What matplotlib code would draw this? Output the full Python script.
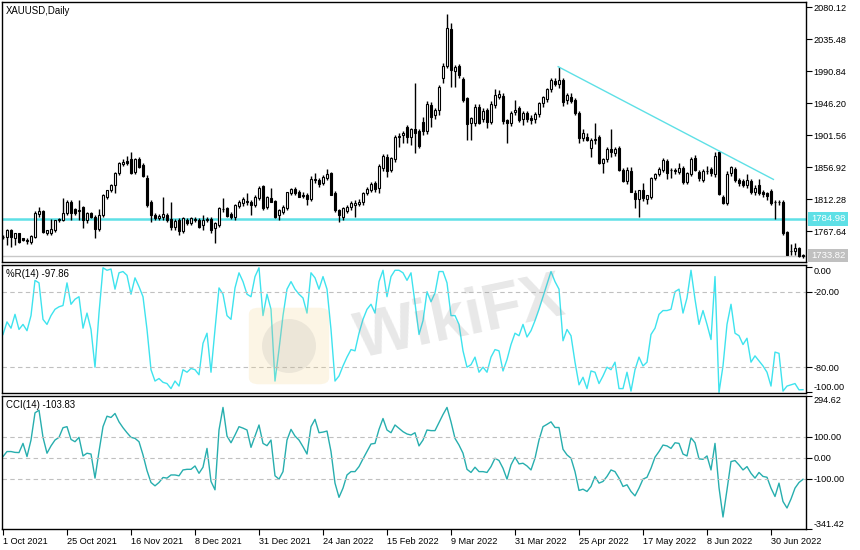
import matplotlib
matplotlib.use("Agg")
import matplotlib.pyplot as plt
import matplotlib.transforms as mtransforms
from matplotlib.patches import FancyBboxPatch, Ellipse
import numpy as np

# XAUUSD daily bars, 1 Oct 2021 .. mid Jul 2022
open_ = [
    1760.0, 1760.2, 1769.5, 1757.8, 1764.8, 1757.8, 1754.0, 1753.2, 1760.2, 1791.8,
    1796.4, 1765.0, 1765.0, 1769.5, 1783.4, 1783.4, 1792.7, 1809.0, 1798.7, 1796.0,
    1801.0, 1783.4, 1792.7, 1788.1, 1770.4, 1790.4, 1816.0, 1825.2, 1832.2, 1848.5,
    1861.5, 1866.0, 1868.0, 1849.9, 1868.0, 1860.0, 1841.5, 1809.0, 1790.4, 1786.0,
    1787.0, 1790.4, 1785.0, 1774.1, 1783.4, 1768.5, 1783.4, 1779.7, 1784.0, 1783.4,
    1776.4, 1784.0, 1784.8, 1771.8, 1776.4, 1798.3, 1799.7, 1791.3, 1787.1, 1803.0,
    1806.6, 1809.0, 1808.0, 1804.3, 1813.6, 1830.8, 1802.0, 1813.6, 1810.0, 1790.4,
    1795.0, 1799.7, 1820.6, 1826.2, 1822.0, 1818.0, 1818.0, 1812.2, 1839.0, 1839.2,
    1834.6, 1841.5, 1848.5, 1821.5, 1797.3, 1787.1, 1796.0, 1801.0, 1804.3, 1805.7,
    1808.0, 1820.6, 1825.2, 1834.6, 1827.6, 1855.5, 1871.7, 1853.2, 1868.0, 1899.0,
    1902.0, 1913.6, 1898.7, 1909.9, 1907.6, 1920.6, 1907.6, 1943.8, 1929.9, 1936.8,
    1981.0, 1998.2, 2049.4, 1991.7, 1998.2, 1980.0, 1953.1, 1919.2, 1918.3, 1941.5,
    1923.8, 1936.9, 1920.6, 1943.8, 1955.5, 1956.4, 1922.9, 1919.2, 1933.6, 1939.2,
    1923.8, 1932.2, 1925.2, 1923.8, 1930.8, 1947.1, 1951.7, 1965.7, 1977.3, 1972.7,
    1978.7, 1950.8, 1955.5, 1950.8, 1932.2, 1898.3, 1899.6, 1884.3, 1895.0, 1899.6,
    1863.4, 1868.0, 1882.0, 1877.3, 1884.3, 1853.2, 1838.3, 1852.0, 1821.5, 1812.7,
    1825.2, 1812.7, 1816.0, 1841.5, 1847.6, 1853.2, 1865.7, 1853.0, 1853.2, 1850.8,
    1856.4, 1836.9, 1847.1, 1869.4, 1850.8, 1839.2, 1851.7, 1854.1, 1847.1, 1878.7,
    1816.0, 1806.6, 1848.5, 1854.1, 1839.2, 1837.8, 1832.2, 1837.8, 1822.0, 1832.2,
    1823.0, 1820.6, 1824.3, 1808.0, 1809.0, 1809.0, 1766.2, 1740.0, 1740.6, 1743.9,
    1734.0,
]
high = [
    1762.5, 1770.5, 1770.4, 1765.5, 1766.0, 1759.0, 1758.0, 1762.0, 1796.0, 1801.1,
    1798.0, 1770.0, 1785.0, 1784.0, 1786.0, 1813.6, 1811.0, 1811.3, 1800.0, 1811.3,
    1803.0, 1794.0, 1794.0, 1790.0, 1798.3, 1820.0, 1826.0, 1833.0, 1850.0, 1864.0,
    1868.0, 1872.7, 1878.7, 1870.0, 1871.7, 1863.0, 1846.0, 1812.0, 1793.0, 1792.0,
    1816.0, 1793.0, 1809.0, 1785.0, 1786.0, 1788.0, 1786.0, 1787.0, 1788.0, 1786.0,
    1790.4, 1788.1, 1787.0, 1780.0, 1802.0, 1813.6, 1802.0, 1794.0, 1806.0, 1811.0,
    1815.0, 1820.6, 1811.0, 1818.0, 1831.0, 1832.0, 1817.0, 1827.6, 1812.0, 1799.0,
    1805.0, 1823.0, 1828.0, 1830.0, 1825.0, 1822.0, 1821.0, 1845.0, 1848.5, 1842.0,
    1846.0, 1854.1, 1851.0, 1824.0, 1799.0, 1802.0, 1805.0, 1810.0, 1811.0, 1813.0,
    1823.0, 1829.0, 1836.0, 1838.0, 1862.0, 1875.0, 1876.0, 1872.0, 1902.0, 1904.3,
    1908.0, 1916.0, 1912.0, 1974.0, 1910.0, 1927.0, 1950.0, 1948.5, 1940.0, 1972.0,
    2002.0, 2070.3, 2058.7, 2000.0, 2001.0, 1983.0, 1955.0, 1927.0, 1945.0, 1945.0,
    1940.0, 1940.0, 1950.0, 1965.7, 1964.8, 1960.0, 1925.0, 1936.0, 1950.8, 1942.0,
    1936.0, 1936.0, 1930.0, 1934.0, 1948.0, 1957.0, 1968.0, 1982.0, 1982.0, 1997.3,
    1982.0, 1960.0, 1960.0, 1953.0, 1935.0, 1910.0, 1905.0, 1898.0, 1919.2, 1902.0,
    1870.0, 1885.0, 1910.0, 1885.0, 1887.0, 1856.0, 1858.0, 1857.0, 1825.0, 1826.0,
    1835.5, 1818.0, 1844.0, 1849.0, 1857.0, 1869.4, 1869.0, 1856.0, 1856.0, 1863.4,
    1859.0, 1851.0, 1871.7, 1874.1, 1853.0, 1854.0, 1858.7, 1857.0, 1878.0, 1880.0,
    1818.0, 1852.0, 1859.0, 1857.0, 1842.0, 1840.0, 1847.6, 1840.0, 1832.0, 1841.0,
    1826.0, 1823.0, 1827.0, 1811.3, 1811.3, 1812.0, 1768.0, 1749.5, 1751.0, 1746.0,
    1736.0,
]
low = [
    1756.4, 1748.5, 1745.3, 1748.5, 1751.0, 1754.0, 1750.0, 1750.0, 1758.0, 1788.0,
    1764.8, 1762.0, 1762.5, 1767.0, 1781.0, 1782.5, 1790.0, 1783.4, 1790.0, 1783.4,
    1771.8, 1779.7, 1786.0, 1757.8, 1768.0, 1788.0, 1813.0, 1823.0, 1821.5, 1846.0,
    1859.0, 1860.0, 1847.0, 1848.0, 1856.0, 1843.0, 1802.0, 1781.0, 1784.0, 1783.0,
    1784.0, 1780.0, 1769.5, 1770.0, 1762.5, 1766.0, 1777.0, 1776.0, 1781.0, 1772.0,
    1769.5, 1781.0, 1765.8, 1751.8, 1774.0, 1795.0, 1787.0, 1785.0, 1784.0, 1800.0,
    1803.0, 1805.0, 1790.0, 1801.0, 1811.0, 1798.0, 1799.0, 1808.0, 1786.0, 1783.4,
    1792.0, 1797.0, 1818.0, 1818.0, 1815.0, 1814.0, 1805.0, 1810.0, 1834.6, 1829.0,
    1832.0, 1839.0, 1818.0, 1795.0, 1780.2, 1784.0, 1793.0, 1798.0, 1788.1, 1803.0,
    1805.0, 1818.0, 1823.0, 1823.0, 1820.6, 1852.0, 1843.8, 1850.0, 1865.0, 1885.7,
    1891.0, 1891.3, 1888.0, 1877.3, 1884.0, 1902.0, 1903.0, 1913.6, 1925.0, 1929.9,
    1975.0, 1995.0, 1969.4, 1969.4, 1982.0, 1948.0, 1895.0, 1895.0, 1915.0, 1918.0,
    1920.0, 1911.3, 1917.0, 1940.0, 1952.0, 1918.0, 1890.4, 1915.0, 1930.0, 1920.0,
    1915.9, 1920.0, 1918.0, 1919.0, 1927.0, 1940.6, 1948.0, 1962.0, 1970.0, 1968.0,
    1942.4, 1945.0, 1946.0, 1930.0, 1891.3, 1893.0, 1893.0, 1871.7, 1890.0, 1862.0,
    1849.4, 1865.0, 1871.7, 1873.0, 1852.0, 1836.0, 1834.0, 1822.0, 1799.7, 1787.1,
    1810.0, 1806.0, 1813.0, 1839.0, 1845.0, 1850.0, 1840.6, 1841.5, 1848.0, 1848.0,
    1833.0, 1833.0, 1845.0, 1852.0, 1838.0, 1836.0, 1847.0, 1845.0, 1844.0, 1818.0,
    1805.7, 1804.0, 1845.0, 1836.0, 1831.0, 1830.0, 1828.0, 1820.0, 1818.0, 1818.0,
    1816.0, 1811.0, 1804.0, 1784.8, 1805.0, 1763.0, 1734.0, 1734.6, 1734.6, 1732.0,
    1731.0,
]
close = [
    1759.2, 1769.5, 1759.2, 1764.8, 1753.2, 1756.0, 1756.0, 1761.1, 1792.7, 1796.4,
    1767.1, 1769.5, 1770.4, 1783.4, 1784.8, 1792.7, 1809.0, 1792.7, 1792.7, 1797.5,
    1783.4, 1792.7, 1787.1, 1770.4, 1790.4, 1818.3, 1825.2, 1832.2, 1848.5, 1862.5,
    1864.8, 1862.5, 1849.4, 1868.0, 1857.8, 1844.8, 1804.3, 1790.4, 1786.0, 1789.0,
    1791.3, 1783.4, 1774.1, 1782.5, 1768.5, 1785.7, 1779.7, 1785.7, 1785.0, 1774.1,
    1783.4, 1785.0, 1769.5, 1778.8, 1799.7, 1799.0, 1789.0, 1787.1, 1804.3, 1809.0,
    1812.7, 1810.0, 1804.3, 1816.0, 1827.6, 1799.7, 1815.0, 1809.0, 1788.1, 1797.3,
    1802.0, 1822.0, 1826.2, 1820.6, 1816.0, 1817.5, 1812.2, 1840.1, 1840.0, 1833.0,
    1843.8, 1847.1, 1818.3, 1797.3, 1790.4, 1799.7, 1802.0, 1807.6, 1807.6, 1809.0,
    1821.5, 1826.7, 1833.6, 1826.2, 1858.7, 1872.7, 1852.2, 1869.4, 1899.6, 1900.0,
    1904.3, 1899.6, 1909.9, 1904.3, 1886.6, 1907.6, 1945.2, 1927.6, 1936.8, 1969.4,
    1998.2, 2050.8, 1992.7, 1997.3, 1985.7, 1950.8, 1916.9, 1925.2, 1941.5, 1919.2,
    1935.5, 1920.6, 1944.8, 1957.8, 1958.7, 1922.0, 1919.2, 1933.1, 1936.8, 1922.9,
    1932.2, 1923.8, 1922.9, 1930.8, 1946.2, 1954.5, 1965.7, 1978.7, 1972.7, 1978.7,
    1948.5, 1957.8, 1949.4, 1932.2, 1898.3, 1905.2, 1895.0, 1895.0, 1896.0, 1863.4,
    1868.0, 1882.0, 1878.7, 1882.0, 1853.2, 1838.3, 1853.2, 1822.0, 1812.2, 1825.2,
    1813.6, 1818.3, 1841.5, 1847.1, 1854.1, 1867.1, 1849.4, 1852.7, 1852.2, 1856.4,
    1836.9, 1848.5, 1868.0, 1853.2, 1841.5, 1851.7, 1852.2, 1848.5, 1872.7, 1819.2,
    1807.6, 1847.1, 1857.8, 1839.2, 1834.6, 1832.2, 1839.2, 1822.0, 1828.5, 1821.5,
    1819.2, 1816.9, 1806.6, 1809.0, 1808.0, 1765.8, 1734.6, 1740.6, 1743.9, 1733.2,
    1733.8,
]

williams_r = [
    -54, -44, -49, -38, -50, -46, -51, -39, -11, -13,
    -42, -46, -39, -34, -32, -31, -13, -30, -26, -24,
    -49, -37, -50, -80, -37, -1, -3, -2, -18, -5,
    -4, -7, -22, -9, -16, -24, -50, -82, -91, -89,
    -92, -93, -97, -91, -95, -82, -84, -81, -82, -86,
    -61, -53, -84, -50, -17, -22, -39, -42, -17, -5,
    -12, -22, -24, -8, -1, -39, -22, -34, -91, -66,
    -39, -18, -12, -18, -22, -25, -37, -5, -9, -18,
    -8, -18, -50, -91, -87, -79, -72, -66, -67, -53,
    -42, -34, -30, -37, -12, -3, -24, -8, -3, -3,
    -5, -11, -5, -29, -54, -43, -20, -28, -21, -4,
    -4, -13, -39, -39, -46, -67, -80, -78, -72, -84,
    -80, -84, -72, -66, -67, -83, -74, -62, -53, -55,
    -46, -56, -51, -43, -34, -24, -14, -4, -12, -18,
    -59, -50, -55, -76, -94, -88, -97, -83, -84, -93,
    -87, -80, -82, -76, -97, -97, -84, -99, -82, -72,
    -79, -76, -54, -49, -38, -35, -35, -34, -20, -18,
    -37, -25, -3, -26, -46, -35, -46, -58, -8, -100,
    -79, -46, -30, -53, -55, -62, -57, -76, -71, -75,
    -79, -84, -95, -68, -69, -99, -95, -94, -93, -98,
    -97.86,
]
cci = [
    5, 29, 29, 25, 24, 68, 5, 84, 214, 227,
    97, 21, 56, 84, 97, 143, 148, 87, 76, 97,
    8, 21, 17, -98, 29, 148, 198, 192, 211, 171,
    143, 119, 97, 92, 76, 13, -62, -119, -135, -119,
    -95, -98, -83, -83, -87, -59, -56, -56, -40, -75,
    -46, 44, -114, -154, 132, 240, 103, 71, 108, 148,
    141, 132, 49, 103, 156, 68, 57, 84, -87, -103,
    -67, 84, 135, 103, 84, 52, 17, 148, 183, 119,
    122, 127, 29, -122, -190, -146, -83, -67, -67, -43,
    -6, 29, 65, 68, 135, 187, 132, 119, 156, 140,
    124, 113, 108, 119, 56, 84, 132, 129, 129, 167,
    206, 240, 171, 92, 60, 21, -56, -71, -46, -67,
    -67, -71, -43, -3, -14, -51, -103, -35, 2, -30,
    -27, -40, -59, -3, 84, 148, 159, 171, 144, 144,
    40, 13, -3, -67, -157, -151, -162, -138, -90, -122,
    -114, -90, -59, -67, -98, -138, -130, -162, -183, -146,
    -103, -94, -51, 2, 29, 60, 56, 44, 71, 68,
    17, 8, 95, 71, -6, -8, 8, -59, 68, -143,
    -284, -154, -19, -14, -35, -59, -43, -75, -98, -71,
    -90, -94, -146, -186, -122, -210, -241, -198, -146, -119,
    -103.83,
]

date_pos = [0, 16, 32, 48, 64, 80, 96, 112, 128, 144, 160, 176, 192]
date_labels = ["1 Oct 2021", "25 Oct 2021", "16 Nov 2021", "8 Dec 2021",
               "31 Dec 2021", "24 Jan 2022", "15 Feb 2022", "9 Mar 2022",
               "31 Mar 2022", "25 Apr 2022", "17 May 2022", "8 Jun 2022",
               "30 Jun 2022"]
price_ticks = [2080.12, 2035.48, 1990.84, 1946.20, 1901.56, 1856.92, 1812.28, 1767.64]
support_level = 1784.98
last_price = 1733.82
trend_x = [138.8, 192.6]
trend_y = [1997.3, 1840.1]

CYAN = "#5ee0e6"
WPR_COLOR = "#3ee3ee"
CCI_COLOR = "#27aeae"

plt.rcParams["font.family"] = ["Liberation Sans", "DejaVu Sans"]
plt.rcParams["font.size"] = 6.6

W, H = 860, 550
def box(x0, y0, x1, y1):
    return [x0 / W, 1 - y1 / H, (x1 - x0) / W, (y1 - y0) / H]

fig = plt.figure(figsize=(8.6, 5.5), dpi=100)

# faint watermark logo (behind the panels)
logo = FancyBboxPatch((254 / W, 1 - 381 / H), 70 / W, 70 / H,
                      boxstyle="round,pad=0.006,rounding_size=0.012",
                      transform=fig.transFigure, fc="#f3d58a", ec="none",
                      alpha=0.22, zorder=5)
fig.patches.append(logo)
fig.patches.append(Ellipse((289 / W, 1 - 346 / H), 54 / W, 54 / H,
                           transform=fig.transFigure, fc="#9a9a9a", ec="none",
                           alpha=0.16, zorder=5))

ax1 = fig.add_axes(box(2, 2, 806, 262))
ax2 = fig.add_axes(box(2, 265, 806, 393), sharex=ax1)
ax3 = fig.add_axes(box(2, 396, 806, 529), sharex=ax1)

o = np.array(open_)
h = np.array(high)
l = np.array(low)
c = np.array(close)
x = np.arange(len(c))

# candles
ax1.vlines(x, l, h, color="black", lw=1, zorder=2)
bottoms = np.minimum(o, c)
heights = np.maximum(np.abs(c - o), 0.4)
colors = np.where(c >= o, "white", "black")
ax1.bar(x, heights, bottom=bottoms, width=0.55, color=colors,
        edgecolor="black", linewidth=0.8, zorder=3)

ax1.axhline(support_level, color=CYAN, lw=1.8, zorder=1)
ax1.axhline(last_price, color="#c8c8c8", lw=1, zorder=1)
ax1.plot(trend_x, trend_y, color=CYAN, lw=1, zorder=4)

ax1.set_xlim(-0.25, 200.75)
ax1.set_ylim(1724.9, 2087.5)
ax1.set_yticks(price_ticks)
ax1.set_yticklabels(["%.2f" % v for v in price_ticks])

trans = mtransforms.blended_transform_factory(ax1.transAxes, ax1.transData)
ax1.text(1.006, support_level, "%.2f" % support_level, transform=trans,
         ha="left", va="center", color="white", fontsize=6.8, clip_on=False,
         bbox=dict(boxstyle="square,pad=0.25", fc=CYAN, ec="none"))
ax1.text(1.006, last_price, "%.2f" % last_price, transform=trans,
         ha="left", va="center", color="white", fontsize=6.8, clip_on=False,
         bbox=dict(boxstyle="square,pad=0.25", fc="#c0c0c0", ec="none"))
ax1.text(0.005, 0.984, "XAUUSD,Daily", transform=ax1.transAxes,
         ha="left", va="top", fontsize=6.9)

# Williams %R
ax2.plot(x, williams_r, color=WPR_COLOR, lw=1)
for lv in (-20, -80):
    ax2.axhline(lv, color="#c0c0c0", lw=0.8, ls=(0, (4, 3)))
ax2.set_ylim(-100.5, 1.2)
ax2.set_yticks([0, -20, -80, -100])
ax2.set_yticklabels(["0.00", "-20.00", "-80.00", "-100.00"])
ax2.text(0.005, 0.965, "%%R(14) %.2f" % williams_r[-1], transform=ax2.transAxes,
         ha="left", va="top", fontsize=6.9)

# CCI
ax3.plot(x, cci, color=CCI_COLOR, lw=1)
for lv in (100, 0, -100):
    ax3.axhline(lv, color="#c0c0c0", lw=0.8, ls=(0, (4, 3)))
ax3.set_ylim(-341.42, 294.62)
ax3.set_yticks([294.62, 100, 0, -100, -341.42])
ax3.set_yticklabels(["294.62", "100.00", "0.00", "-100.00", "-341.42"])
ax3.text(0.005, 0.97, "CCI(14) %.2f" % cci[-1], transform=ax3.transAxes,
         ha="left", va="top", fontsize=6.9)

ax3.set_xticks(date_pos)
ax3.set_xticklabels(date_labels)
for lbl in ax3.get_xticklabels():
    lbl.set_horizontalalignment("left")

for ax in (ax1, ax2, ax3):
    ax.patch.set_alpha(0)
    ax.yaxis.tick_right()
    ax.tick_params(axis="y", direction="out", length=4.5, width=0.8, pad=1,
                   labelsize=6.6)
    for sp in ax.spines.values():
        sp.set_color("black")
        sp.set_linewidth(1)
for ax in (ax1, ax2):
    ax.tick_params(axis="x", bottom=False, labelbottom=False)
ax3.tick_params(axis="x", direction="out", length=4, width=0.8, pad=2,
                labelsize=6.6)

# edge labels sit inside the indicator windows
for ax in (ax2, ax3):
    lbls = ax.get_yticklabels()
    lbls[0].set_verticalalignment("top")
    lbls[-1].set_verticalalignment("bottom")

fig.text(0.535, 0.42, "WikiFX", fontsize=46, fontweight="bold", color="#8c8c8c",
         alpha=0.2, rotation=12, ha="center", va="center", zorder=0)

fig.savefig("out.png", dpi=100)
